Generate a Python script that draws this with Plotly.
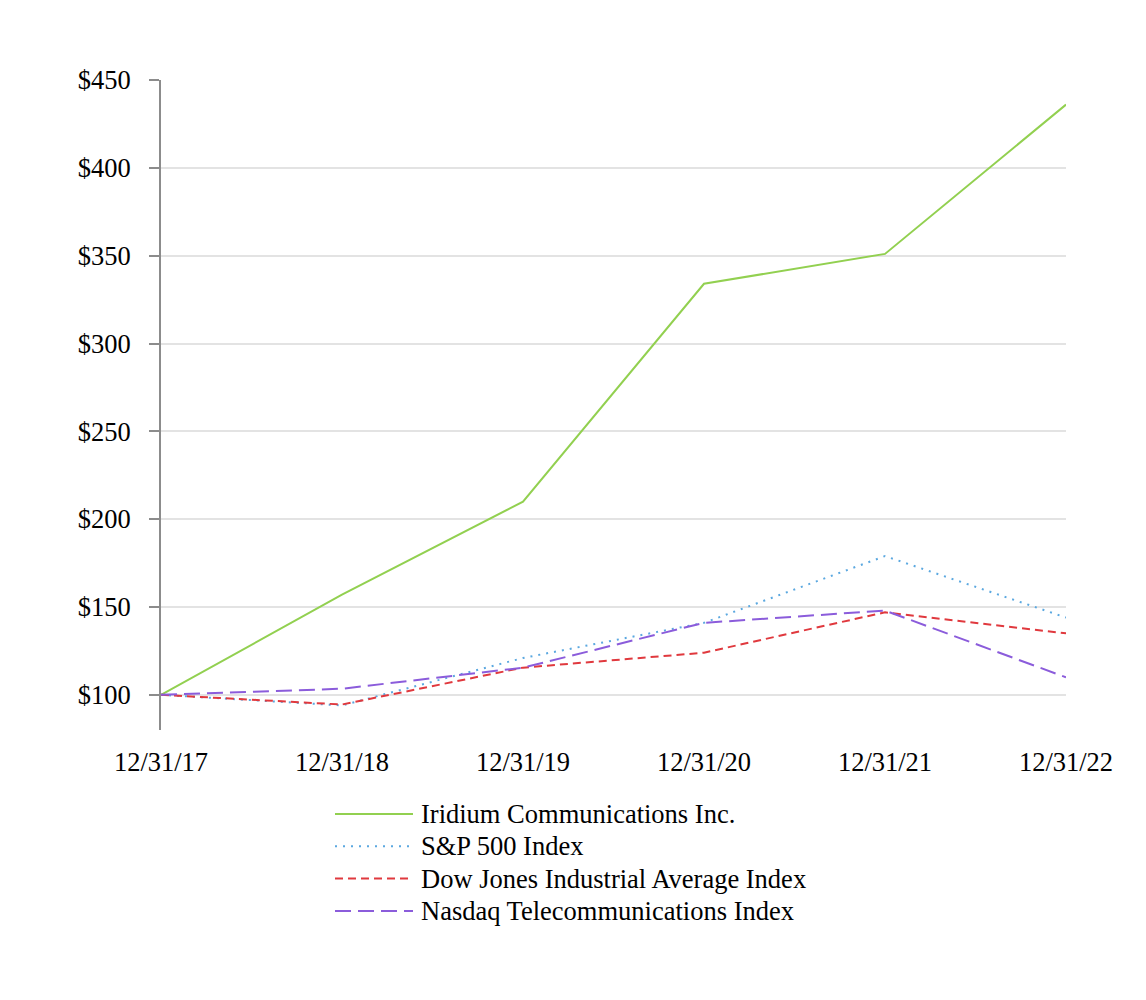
import plotly.graph_objects as go

# cumulative value of $100 invested
dates = ['12/31/17', '12/31/18', '12/31/19', '12/31/20', '12/31/21', '12/31/22']
iridium = [100, 157, 210, 334, 351, 436]
sp500 = [100, 94, 121, 141, 179, 144]
dow_jones = [100, 94.5, 115.5, 124, 147, 135]
nasdaq_telecom = [100, 103.5, 115.5, 141, 148, 110]

series_names = ['Iridium Communications Inc.', 'S&P 500 Index',
                'Dow Jones Industrial Average Index', 'Nasdaq Telecommunications Index']

y_ticks = [100, 150, 200, 250, 300, 350, 400, 450]

colors = ['#92D050', '#5BA8E0', '#E0393E', '#8B5CDB']
dashes = ['solid', '2px,6px', '8px,5px', '16px,7px']

font_family = "Liberation Serif, Times New Roman, serif"
font_size = 26.5

W, H = 1146, 1000
margin = {'l': 153, 'r': 88, 't': 72, 'b': 278}
plot_w = W - margin['l'] - margin['r']
plot_h = H - margin['t'] - margin['b']


def px_to_paper(px, py):
    return (px - margin['l']) / plot_w, (H - margin['b'] - py) / plot_h


fig = go.Figure()
for name, vals, color, dash in zip(series_names,
                                   [iridium, sp500, dow_jones, nasdaq_telecom],
                                   colors, dashes):
    fig.add_trace(go.Scatter(x=dates, y=vals, mode='lines', name=name,
                             line={'color': color, 'width': 2, 'dash': dash}))

# legend drawn below the plot, lines then labels
for i, (name, color, dash) in enumerate(zip(series_names, colors, dashes)):
    row_y = 806 + i * 32.3
    x0, y0 = px_to_paper(327, row_y)
    x1, _ = px_to_paper(405, row_y)
    xt, _ = px_to_paper(411, row_y)
    fig.add_shape(type='line', xref='paper', yref='paper',
                  x0=x0, x1=x1, y0=y0, y1=y0,
                  line={'color': color, 'width': 2, 'dash': dash})
    fig.add_annotation(text=name, xref='paper', yref='paper', x=xt, y=y0,
                       xanchor='left', yanchor='middle', showarrow=False,
                       font={'size': font_size, 'color': '#000000'})

fig.update_xaxes(
    type='category',
    range=[0, len(dates) - 1],
    showgrid=False,
    showline=False,
    zeroline=False,
    ticks='',
    ticklabelstandoff=13,
    tickfont={'size': font_size, 'color': '#000000'},
)
fig.update_yaxes(
    range=[80, 450],
    tickvals=y_ticks,
    ticktext=['$' + str(v) for v in y_ticks],
    showgrid=True,
    gridcolor='#E3E3E3',
    gridwidth=1.5,
    showline=True,
    linecolor='#8C8C8C',
    linewidth=2,
    ticks='outside',
    ticklen=10,
    tickwidth=2,
    tickcolor='#8C8C8C',
    zeroline=False,
    ticklabelstandoff=13,
    tickfont={'size': font_size, 'color': '#000000'},
)
fig.update_layout(
    width=W,
    height=H,
    margin=margin,
    plot_bgcolor='#FFFFFF',
    paper_bgcolor='#FFFFFF',
    font={'family': font_family, 'size': font_size, 'color': '#000000'},
    hovermode=False,
    showlegend=False,
)

fig.write_html("out.html")
